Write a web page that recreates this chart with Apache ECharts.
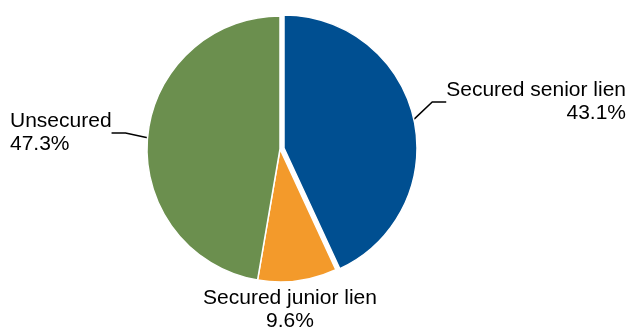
<!DOCTYPE html>
<html><head><meta charset="utf-8">
<script src="https://cdn.jsdelivr.net/npm/echarts@6/dist/echarts.min.js"></script>
<style>html,body{margin:0;padding:0;background:#fff}#c{width:630px;height:327px}</style>
</head><body><div id="c"></div>
<script>
const categories = ['Secured senior lien', 'Secured junior lien', 'Unsecured'];
const values = [43.1, 9.6, 47.3];
const colors = ['#004F91', '#F39A2B', '#6B8F4E'];
const explodedIndex = 0;
const labelPos = [
  {x: 626, y: 79, align: 'right'},
  {x: 290, y: 287, align: 'center'},
  {x: 10, y: 110, align: 'left'}
];
const showLine = [true, false, true];

function makeSeries(exploded) {
  return {
    type: 'pie',
    center: exploded ? [284, 148] : [280, 149],
    radius: [0, 133],
    startAngle: 90,
    clockwise: true,
    silent: true,
    avoidLabelOverlap: false,
    z: exploded ? 3 : 2,
    label: {
      show: true,
      position: 'outside',
      overflow: 'none',
      formatter: p => p.name + '\n' + p.value.toFixed(1) + '%',
      fontFamily: 'Liberation Sans, Arial, sans-serif',
      fontSize: 21,
      lineHeight: 23,
      color: '#000'
    },
    labelLine: {show: true, length: 8, length2: 14, lineStyle: {color: '#000', width: 1.5}},
    labelLayout: function (params) {
      const p = labelPos[params.dataIndex];
      return {x: p.x, y: p.y, align: p.align, verticalAlign: 'top'};
    },
    emphasis: {disabled: true},
    data: categories.map((c, i) => {
      const own = (i === explodedIndex) === exploded;
      return {
        name: c,
        value: values[i],
        itemStyle: own
          ? {color: colors[i], borderColor: '#fff', borderWidth: 1.5}
          : {color: 'rgba(0,0,0,0)', borderWidth: 0},
        label: {show: own, align: labelPos[i].align},
        labelLine: {show: own && showLine[i]}
      };
    })
  };
}

const chart = echarts.init(document.getElementById('c'), null, {renderer: 'canvas'});
chart.setOption({
  animation: false,
  series: [makeSeries(false), makeSeries(true)]
});
</script></body></html>
